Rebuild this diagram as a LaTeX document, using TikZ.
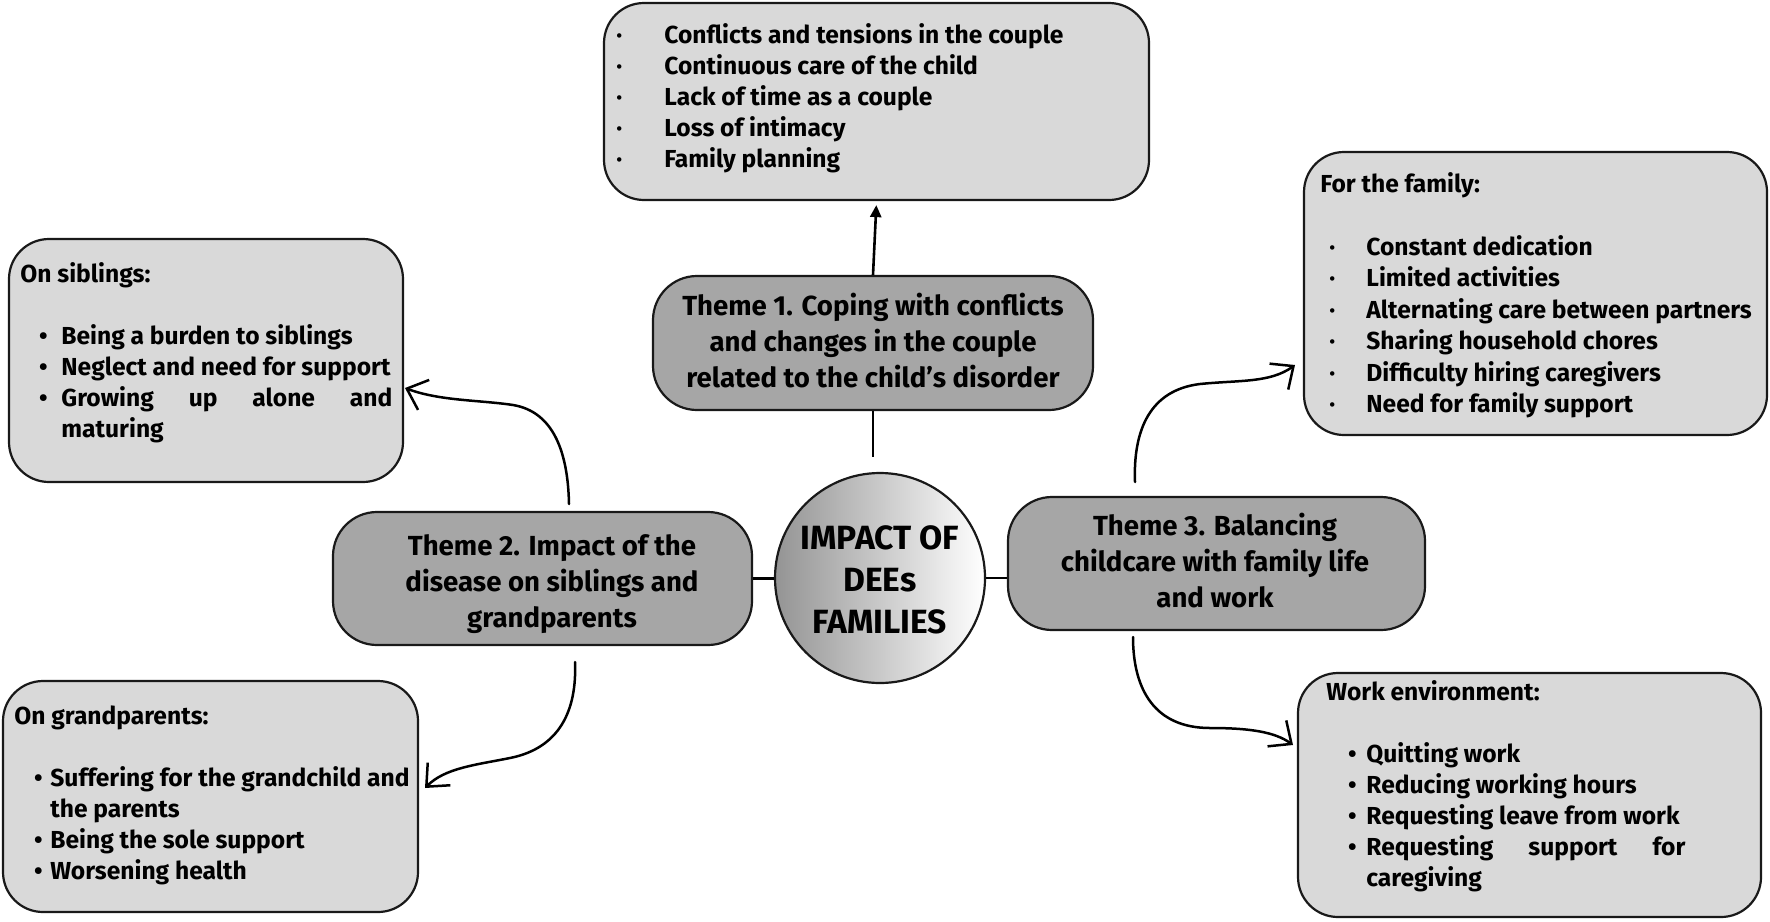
\documentclass[tikz,border=0pt]{standalone}
\usepackage{fontspec}
\setmainfont{Fira Sans}
\usetikzlibrary{arrows.meta}
\definecolor{lightfill}{HTML}{D9D9D9}
\definecolor{themefill}{HTML}{A6A6A6}
\tikzset{
 lbox/.style={draw=black!90, line width=1.1pt, fill=lightfill, rounded corners=20pt, inner sep=0pt},
 tbox/.style={draw=black!90, line width=1.1pt, fill=themefill, rounded corners=22pt, inner sep=0pt},
 txt/.style={inner sep=0pt, anchor=base west, font=\bfseries\fontsize{12.3}{15.5}\selectfont},
 ttxt/.style={inner sep=0pt, anchor=base, font=\bfseries\fontsize{13.8}{18}\selectfont},
 conn/.style={line width=1.3pt},
 curvy/.style={line width=1.25pt, line cap=round, -{Straight Barb[length=9pt,width=16pt,line width=1.25pt]}},
}
\newcommand\bl[3]{\hspace*{#1}\makebox[0pt]{#3}\hspace*{\dimexpr#2-#1\relax}}
\begin{document}
\begin{tikzpicture}[x=0.5pt,y=-0.5pt]
\useasboundingbox (0,0) rectangle (1770,921);
% boxes
\node[lbox, minimum width=272.5pt, minimum height=98.5pt] (top) at (876.5,101.5) {};
\node[tbox, minimum width=220pt, minimum height=67pt] (t1) at (873,343) {};
\node[tbox, minimum width=209.5pt, minimum height=66.5pt] (t2) at (542.5,578.5) {};
\node[tbox, minimum width=208.5pt, minimum height=66.5pt] (t3) at (1216.5,563.5) {};
\node[lbox, minimum width=197pt, minimum height=121.5pt] (sib) at (206,360.5) {};
\node[lbox, minimum width=207.5pt, minimum height=115.5pt] (gp) at (210.5,796.5) {};
\node[lbox, minimum width=231.5pt, minimum height=141.5pt] (fam) at (1535.5,293.5) {};
\node[lbox, minimum width=231.5pt, minimum height=122pt] (work) at (1529.5,795) {};
\node[circle, draw=black!90, line width=1.1pt, minimum size=105pt, inner sep=0pt,
      left color=black!42, right color=white] (c) at (880,578) {};
% texts
\node[txt] (toptxt) at (610,43) {\parbox[t]{260pt}{%
\bl{4.5pt}{27pt}{·}Conflicts and tensions in the couple\\
\bl{4.5pt}{27pt}{·}Continuous care of the child\\
\bl{4.5pt}{27pt}{·}Lack of time as a couple\\
\bl{4.5pt}{27pt}{·}Loss of intimacy\\
\bl{4.5pt}{27pt}{·}Family planning}};
\node[txt] (sibtxt) at (20,282) {\parbox[t]{190pt}{%
On siblings:\\[15.5pt]
\bl{11.5pt}{20.5pt}{•}Being a burden to siblings\\
\bl{11.5pt}{20.5pt}{•}Neglect and need for support\\
\bl{11.5pt}{20.5pt}{•}\makebox[165.5pt][s]{Growing up alone and}\\
\hspace*{20.5pt}maturing}};
\node[txt] (gptxt) at (14,724) {\parbox[t]{205pt}{%
On grandparents:\\[15.5pt]
\bl{12pt}{18pt}{•}Suffering for the grandchild and\\
\hspace*{18pt}the parents\\
\bl{12pt}{18pt}{•}Being the sole support\\
\bl{12pt}{18pt}{•}Worsening health}};
\node[txt, font=\bfseries\fontsize{12.3}{15.7}\selectfont] (famtxt) at (1320,192) {\parbox[t]{225pt}{%
For the family:\\[16pt]
\bl{6pt}{23pt}{·}Constant dedication\\
\bl{6pt}{23pt}{·}Limited activities\\
\bl{6pt}{23pt}{·}Alternating care between partners\\
\bl{6pt}{23pt}{·}Sharing household chores\\
\bl{6pt}{23pt}{·}Difficulty hiring caregivers\\
\bl{6pt}{23pt}{·}Need for family support}};
\node[txt] (worktxt) at (1326,700) {\parbox[t]{225pt}{%
Work environment:\\[15.5pt]
\bl{13pt}{20pt}{•}Quitting work\\
\bl{13pt}{20pt}{•}Reducing working hours\\
\bl{13pt}{20pt}{•}Requesting leave from work\\
\bl{13pt}{20pt}{•}\makebox[159.5pt][s]{Requesting support for}\\
\hspace*{20pt}caregiving}};
\node[ttxt] (t1txt) at (873,315) {\parbox[t]{220pt}{\centering
Theme 1. Coping with conflicts\\ and changes in the couple\\ related to the child’s disorder}};
\node[ttxt] (t2txt) at (552,555) {\parbox[t]{205pt}{\centering
Theme 2. Impact of the\\ disease on siblings and\\ grandparents}};
\node[ttxt] (t3txt) at (1215,535) {\parbox[t]{205pt}{\centering
Theme 3. Balancing\\ childcare with family life\\ and work}};
\node[inner sep=0pt, anchor=base, font=\bfseries\fontsize{16.8}{21}\selectfont] (ctxt) at (880,549)
  {\parbox[t]{100pt}{\centering IMPACT OF\\ DEEs\\ FAMILIES}};
% connectors
\coordinate (stub) at (873,457);
\draw[conn, -{Triangle[length=6pt,width=5.5pt]}, shorten >=2pt] (t1.north) -- (top.south);
\draw[conn] (t1.south) -- (stub);
\draw[conn] (t2.east) -- (t2.east -| c.west);
\draw[conn] (c.east) -- (c.east -| t3.west);
\coordinate (a1s) at (569,504);
\coordinate (a1e) at (405,388);
\draw[curvy] (a1s) .. controls (568,455) and (555,412) .. (513,405)
  .. controls (480,400) and (440,401) .. (a1e);
\coordinate (a2s) at (575,662);
\coordinate (a2e) at (425,788);
\draw[curvy] (a2s) .. controls (577,710) and (560,748) .. (510,758)
  .. controls (475,765) and (445,768) .. (a2e);
\coordinate (a3s) at (1135,482);
\coordinate (a3e) at (1295,365);
\draw[curvy] (a3s) .. controls (1133,430) and (1150,390) .. (1200,384)
  .. controls (1240,380) and (1270,383) .. (a3e);
\coordinate (a4s) at (1133,637);
\coordinate (a4e) at (1293,745);
\draw[curvy] (a4s) .. controls (1133,690) and (1155,728) .. (1210,728)
  .. controls (1250,728) and (1275,732) .. (a4e);
\end{tikzpicture}
\end{document}
